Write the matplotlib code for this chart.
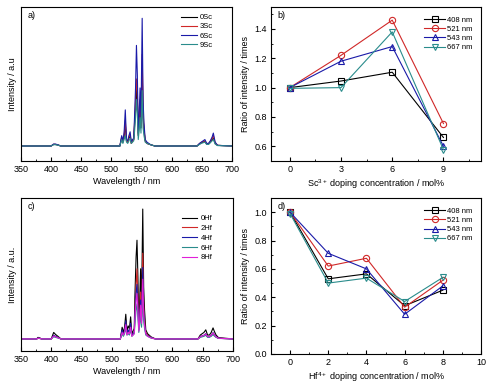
import numpy as np
import matplotlib
matplotlib.use("Agg")
import matplotlib.pyplot as plt
from matplotlib.ticker import MultipleLocator

plt.rcParams['font.family'] = ['Liberation Sans', 'DejaVu Sans']
plt.rcParams['font.size'] = 6.5
plt.rcParams['mathtext.default'] = 'regular'

# emission spectra, shared wavelength grid (nm)
wl = [350, 376, 378, 381, 384, 400, 404, 407, 411, 416,
      514, 517, 519, 521, 523, 525, 527, 529, 531, 533, 535, 537, 538, 540, 541.5,
      543, 544.5, 546, 547.5, 549, 551, 552.5, 554, 556, 559, 565, 572,
      642, 646, 649, 652, 655, 658, 661, 664, 667, 669, 672, 676, 700]

# panel a: Sc series
sc0 = [0, 0, 0, 0, 0, 0, 1.2, 1.2, 0.8, 0,
       0, 6, 3, 7, 17, 4, 3, 6, 8, 2, 4, 5, 13, 28, 45, 35, 8, 18, 30, 14, 60, 22, 12, 4, 2, 1, 0,
       0, 1.5, 2.5, 3, 3.5, 1.5, 1.5, 3, 5, 6, 2, 0.5, 0]
sc3 = [0, 0, 0, 0, 0, 0, 1.3, 1.3, 0.9, 0,
       0, 7, 3, 8, 20, 4, 3, 7, 9, 2, 4, 5, 15, 35, 52, 42, 9, 20, 36, 16, 71, 26, 14, 4, 2, 1, 0,
       0, 1.8, 2.8, 3.5, 4, 1.8, 1.8, 3.5, 6, 8, 2.5, 0.5, 0]
sc6 = [0, 0, 0, 0, 0, 0, 1.5, 1.5, 1, 0,
       0, 8, 4, 10, 28, 5, 4, 8, 11, 3, 5, 6, 18, 45, 78, 55, 10, 25, 45, 20, 99, 35, 18, 5, 3, 1, 0,
       0, 2, 3, 4, 5, 2, 2, 4, 7, 10, 3, 0.5, 0]
sc9 = [0, 0, 0, 0, 0, 0, 1, 1, 0.7, 0,
       0, 5, 2, 5, 8, 3, 2, 4, 6, 2, 3, 4, 9, 22, 36, 25, 5, 12, 22, 10, 43, 14, 8, 3, 2, 1, 0,
       0, 1.2, 2, 2.5, 3, 1.2, 1.2, 2.5, 4, 5, 1.5, 0.3, 0]

# panel c: Hf series
hf0 = [0, 0, 1.2, 0.8, 0, 0, 5, 3.5, 2, 0,
       0, 9, 5, 9, 19, 6, 10, 8, 17, 4, 6, 8, 32, 63, 76, 48, 12, 30, 54, 25, 100, 40, 22, 7, 4, 1.5, 0,
       0, 3, 4, 5, 7, 3, 3, 5, 8.5, 6, 3, 1, 0]
hf2 = [0, 0, 0.7, 0.4, 0, 0, 2.7, 1.9, 1.1, 0,
       0, 6, 3, 6, 13, 4, 6, 5, 11, 3, 4, 5, 20, 42, 54, 32, 8, 20, 36, 17, 66, 26, 14, 5, 3, 1, 0,
       0, 1.6, 2.2, 2.7, 3.8, 1.6, 1.6, 2.7, 4.5, 3.2, 1.6, 0.5, 0]
hf4 = [0, 0, 0.7, 0.5, 0, 0, 2.8, 2, 1.1, 0,
       0, 7, 3, 6, 14, 4, 7, 5, 12, 3, 4, 5, 18, 36, 42, 26, 7, 16, 30, 14, 55, 22, 12, 4, 2.5, 1, 0,
       0, 1.7, 2.3, 2.8, 4, 1.7, 1.7, 2.8, 4.8, 3.4, 1.7, 0.5, 0]
hf6 = [0, 0, 0.4, 0.3, 0, 0, 1.7, 1.2, 0.7, 0,
       0, 4, 2, 4, 8, 3, 4, 3, 7, 2, 3, 4, 11, 22, 27, 17, 5, 11, 19, 9, 32, 14, 8, 3, 2, 0.6, 0,
       0, 1.2, 1.6, 2, 2.8, 1.2, 1.2, 2, 3.3, 2.3, 1.2, 0.4, 0]
hf8 = [0, 0, 0.5, 0.4, 0, 0, 2.3, 1.6, 0.9, 0,
       0, 5, 3, 5, 11, 3, 5, 4, 9, 2, 3, 4, 15, 30, 35, 22, 6, 14, 26, 12, 46, 19, 10, 4, 2, 0.7, 0,
       0, 1.7, 2.2, 2.7, 3.8, 1.7, 1.7, 2.7, 4.6, 3.2, 1.6, 0.5, 0]

# panel b: ratio vs Sc concentration
sc_conc = [0, 3, 6, 9]
b_408 = [1.0, 1.045, 1.105, 0.66]
b_521 = [1.0, 1.22, 1.46, 0.755]
b_543 = [1.0, 1.18, 1.28, 0.60]
b_667 = [0.995, 1.0, 1.38, 0.577]

# panel d: ratio vs Hf concentration
hf_conc = [0, 2, 4, 6, 8]
d_408 = [1.0, 0.53, 0.565, 0.34, 0.45]
d_521 = [1.0, 0.62, 0.675, 0.33, 0.52]
d_543 = [1.0, 0.71, 0.60, 0.28, 0.48]
d_667 = [0.99, 0.50, 0.535, 0.37, 0.54]

RED = '#d02828'
BLUE = '#1a1aa8'
TEAL = '#2a8c8c'
MAG = '#e020d8'

fig = plt.figure(figsize=(4.99, 3.86), dpi=100)
ax_a = fig.add_axes([0.042, 0.583, 0.423, 0.399])
ax_b = fig.add_axes([0.543, 0.583, 0.421, 0.399])
ax_c = fig.add_axes([0.042, 0.091, 0.425, 0.396])
ax_d = fig.add_axes([0.543, 0.083, 0.421, 0.404])


def spec_axes(ax, ylab, tag, ylim):
    ax.set_xlim(350, 700)
    ax.set_ylim(*ylim)
    ax.xaxis.set_major_locator(MultipleLocator(50))
    ax.xaxis.set_minor_locator(MultipleLocator(25))
    ax.set_yticks([])
    ax.tick_params(axis='x', which='both', direction='in', top=False, pad=3)
    ax.tick_params(axis='x', which='major', length=3)
    ax.tick_params(axis='x', which='minor', length=1.5)
    ax.set_xlabel('Wavelength / nm', labelpad=2)
    ax.set_ylabel(ylab, labelpad=3)
    ax.text(0.03, 0.975, tag, transform=ax.transAxes, va='top', ha='left')


def ratio_axes(ax, tag):
    ax.tick_params(axis='both', which='both', direction='in', top=False, right=False, pad=3)
    ax.tick_params(which='major', length=3)
    ax.tick_params(which='minor', length=1.5)
    ax.set_ylabel('Ratio of intensity / times', labelpad=3)
    ax.text(0.03, 0.975, tag, transform=ax.transAxes, va='top', ha='left')


for ax in (ax_a, ax_b, ax_c, ax_d):
    for s in ax.spines.values():
        s.set_linewidth(0.8)

# a)
ax_a.plot(wl, sc0, color='black', lw=0.8, label='0Sc')
ax_a.plot(wl, sc3, color=RED, lw=0.8, label='3Sc')
ax_a.plot(wl, sc6, color=BLUE, lw=0.8, label='6Sc')
ax_a.plot(wl, sc9, color=TEAL, lw=0.8, label='9Sc')
spec_axes(ax_a, 'Intensity / a.u', 'a)', (-11.6, 107.8))
ax_a.legend(loc='upper left', bbox_to_anchor=(0.76, 0.955), frameon=False, fontsize=5.5,
            handlelength=2.0, handletextpad=0.4, labelspacing=0.25, borderpad=0, borderaxespad=0)

# c)
ax_c.plot(wl, hf0, color='black', lw=0.8, label='0Hf')
ax_c.plot(wl, hf2, color=RED, lw=0.8, label='2Hf')
ax_c.plot(wl, hf4, color=BLUE, lw=0.8, label='4Hf')
ax_c.plot(wl, hf6, color=TEAL, lw=0.8, label='6Hf')
ax_c.plot(wl, hf8, color=MAG, lw=0.8, label='8Hf')
spec_axes(ax_c, 'Intensity / a.u.', 'c)', (-9.2, 108.5))
ax_c.legend(loc='upper left', bbox_to_anchor=(0.76, 0.89), frameon=False, fontsize=5.5,
            handlelength=2.0, handletextpad=0.4, labelspacing=0.32, borderpad=0, borderaxespad=0)

mk = dict(lw=0.8, ms=4.5, mfc='none', mew=0.8)

# b)
ax_b.plot(sc_conc, b_408, color='black', marker='s', label='408 nm', **mk)
ax_b.plot(sc_conc, b_521, color=RED, marker='o', label='521 nm', **mk)
ax_b.plot(sc_conc, b_543, color=BLUE, marker='^', label='543 nm', **mk)
ax_b.plot(sc_conc, b_667, color=TEAL, marker='v', label='667 nm', **mk)
ax_b.set_xlim(-1.1, 11.2)
ax_b.set_ylim(0.5, 1.55)
ax_b.set_xticks(sc_conc)
ax_b.xaxis.set_minor_locator(MultipleLocator(1.5))
ax_b.yaxis.set_major_locator(MultipleLocator(0.2))
ax_b.yaxis.set_minor_locator(MultipleLocator(0.1))
ax_b.yaxis.set_major_formatter('{x:.1f}')
ax_b.set_xlabel('Sc$^{3+}$ doping concentration / mol%', labelpad=2)
ratio_axes(ax_b, 'b)')
ax_b.legend(loc='upper left', bbox_to_anchor=(0.73, 0.94), frameon=False, fontsize=5.5,
            handlelength=2.7, handletextpad=0.3, labelspacing=0.25, borderpad=0, borderaxespad=0)

# d)
ax_d.plot(hf_conc, d_408, color='black', marker='s', label='408 nm', **mk)
ax_d.plot(hf_conc, d_521, color=RED, marker='o', label='521 nm', **mk)
ax_d.plot(hf_conc, d_543, color=BLUE, marker='^', label='543 nm', **mk)
ax_d.plot(hf_conc, d_667, color=TEAL, marker='v', label='667 nm', **mk)
ax_d.set_xlim(-1, 10)
ax_d.set_ylim(0, 1.1)
ax_d.xaxis.set_major_locator(MultipleLocator(2))
ax_d.xaxis.set_minor_locator(MultipleLocator(1))
ax_d.yaxis.set_major_locator(MultipleLocator(0.2))
ax_d.yaxis.set_minor_locator(MultipleLocator(0.1))
ax_d.yaxis.set_major_formatter('{x:.1f}')
ax_d.set_xlabel('Hf$^{4+}$ doping concentration / mol%', labelpad=2)
ratio_axes(ax_d, 'd)')
ax_d.legend(loc='upper left', bbox_to_anchor=(0.73, 0.94), frameon=False, fontsize=5.5,
            handlelength=2.7, handletextpad=0.3, labelspacing=0.25, borderpad=0, borderaxespad=0)

fig.savefig('out.png', dpi=100)
